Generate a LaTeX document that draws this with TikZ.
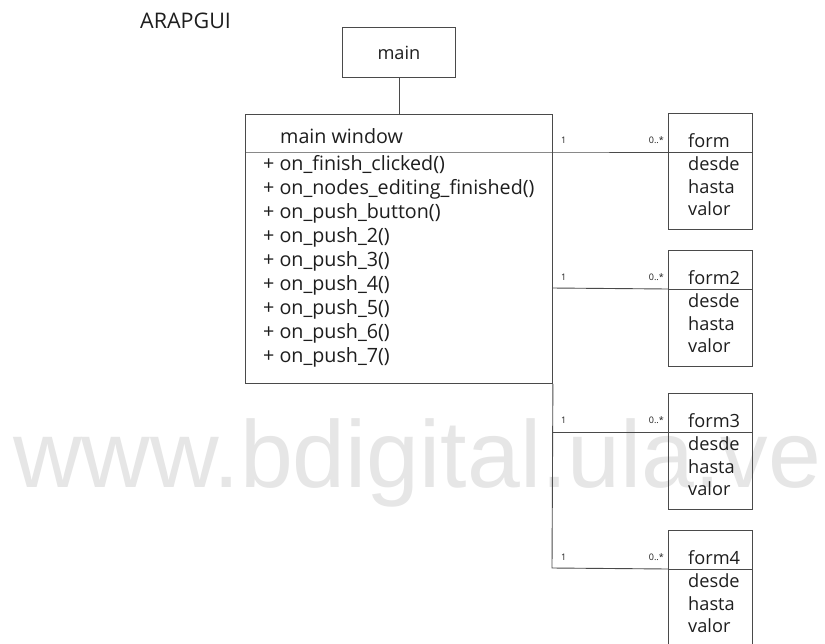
\documentclass[tikz,border=0pt]{standalone}
\usepackage{fontspec}
\setmainfont{Open Sans}
\newfontfamily\wmfont{Liberation Sans}
\definecolor{linec}{HTML}{4A4A4A}
\definecolor{txtc}{HTML}{1E1E1E}
\definecolor{wmc}{HTML}{E6E6E6}
\begin{document}
\begin{tikzpicture}[x=1pt,y=-1pt,
  box/.style={draw=linec, line width=0.9pt, inner sep=0pt, anchor=north west},
  lbl/.style={text=txtc, inner sep=0pt, anchor=base west},
  big/.style={font=\fontsize{19.7}{24}\selectfont},
  med/.style={font=\fontsize{18.2}{22}\selectfont},
  multl/.style={font=\fontsize{9}{10}\selectfont, text=txtc, inner sep=0pt, anchor=base west},
  multr/.style={font=\fontsize{9}{10}\selectfont, text=txtc, inner sep=0pt, anchor=base east},
  conn/.style={draw=linec, line width=0.9pt}]
\useasboundingbox (0,0) rectangle (825,643);
\clip (0,0) rectangle (825,643);
\fill[white] (0,0) rectangle (825,643);
% watermark
\node[inner sep=0pt, anchor=base west, text=wmc, font=\wmfont\fontsize{95}{100}\selectfont] (wm) at (13,487) {www.bdigital.ula.ve};
% title
\node[lbl, font=\fontsize{21.5}{24}\selectfont] (title) at (140,28) {ARAPGUI};
% main
\node[box, med, text=txtc, minimum width=113pt, minimum height=50pt] (main) at (342,27) {main};
% main window
\node[box, minimum width=307pt, minimum height=269pt] (mw) at (245,114) {};
\node[lbl, big] (mwname) at (280,143) {main window};
\foreach \t [count=\i from 0] in {on\_finish\_clicked(), on\_nodes\_editing\_finished(), on\_push\_button(), on\_push\_2(), on\_push\_3(), on\_push\_4(), on\_push\_5(), on\_push\_6(), on\_push\_7()}
  \node[lbl, big] (m\i) at (263,{170+24.1*\i}) {+ \t};
\draw[conn] (main.south) -- (main.south |- mw.north);
% forms
\foreach \k/\top/\nm in {1/113/form, 2/250/form2, 3/393/form3, 4/530/form4}{
  \node[box, minimum width=84pt, minimum height=116pt] (form\k) at (668,\top) {};
  \coordinate (fd\k) at (668,{\top+39});
  \coordinate (fe\k) at (752,{\top+39});
  \draw[conn] (fd\k) -- (fe\k);
  \node[lbl, med] (fn\k) at (688,{\top+34}) {\nm};
  \node[lbl, med] (fa\k) at (688,{\top+57}) {desde};
  \node[lbl, med] (fb\k) at (688,{\top+80}) {hasta};
  \node[lbl, med] (fc\k) at (688,{\top+102}) {valor};
  \node[multl] (one\k) at (561,{\top+30}) {1};
  \node[multr] (many\k) at (664,{\top+30}) {0..*};
}
% connectors
\coordinate (mwd) at (245,152);
\coordinate (s1) at (552,152);
\coordinate (s2) at (552,288);
\coordinate (s3) at (552,432);
\coordinate (s4) at (552,568);
\draw[conn] (mwd) -- (s1) -- (fd1);
\draw[conn] (s2) -- (fd2);
\draw[conn] (mw.south east) -- (s4) -- (fd4);
\draw[conn] (s3) -- (fd3);
\end{tikzpicture}
\end{document}
